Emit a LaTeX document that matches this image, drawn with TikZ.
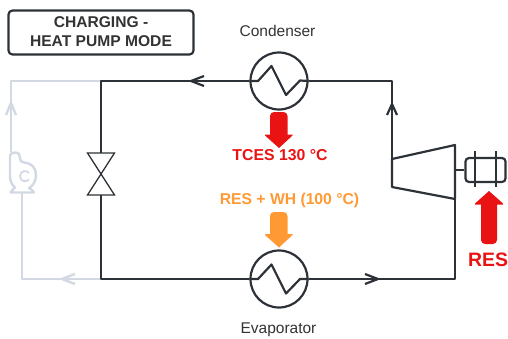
\documentclass[tikz,border=0pt]{standalone}
\usepackage{fontspec}
\setmainfont{Liberation Sans}
\usetikzlibrary{calc}
\definecolor{dk}{HTML}{2D3238}
\definecolor{gy}{HTML}{D3D9E3}
\definecolor{rd}{HTML}{EA1313}
\definecolor{og}{HTML}{FF9933}
\definecolor{tx}{HTML}{333333}
\tikzset{
 x=1pt,y=-1pt,
 pipe/.style={draw=dk,line width=2.2pt,line join=round},
 thin pipe/.style={draw=dk,line width=1.3pt,line join=miter},
 ghost/.style={draw=gy,line width=2.4pt,line join=round},
 hx/.style={circle,draw=dk,line width=2.2pt,minimum size=57pt,inner sep=0pt,fill=none},
 lbl/.style={inner sep=0pt,font=\fontsize{15.5pt}{18pt}\selectfont,text=tx},
 hot/.style={inner sep=0pt,font=\fontsize{15.8pt}{18pt}\selectfont\bfseries,text=rd},
 warm/.style={inner sep=0pt,font=\fontsize{15.7pt}{18pt}\selectfont\bfseries,text=og},
 title/.style={draw=dk,line width=2.2pt,rounded corners=4pt,minimum width=185pt,minimum height=44pt,inner sep=0pt,align=center,font=\fontsize{15.6pt}{19pt}\selectfont\bfseries,text=tx},
}
% open chevron: style, tip coordinate, direction of the arms along the line, half-width offset
\newcommand{\chevron}[4]{\draw[#1] ($(#2)+(#3)+(#4)$) -- (#2) -- ($(#2)+(#3)-(#4)$);}
\begin{document}
\begin{tikzpicture}
\useasboundingbox (0,0) rectangle (508,338);
% nodes
\node[title] (box) at (101,32.5) {\raisebox{1.5pt}{CHARGING -}\\\raisebox{1.5pt}{HEAT PUMP MODE}};
\node[lbl] (clabel) at (277.5,31) {Condenser};
\node[lbl] (elabel) at (278.5,329.5) {Evaporator};
\node[hx] (cond) at (279,81) {};
\node[hx] (evap) at (279,279) {};
\node[hot] (tces) at (280,155) {TCES 130 °C};
\node[warm] (reswh) at (289.5,200) {RES + WH (100 °C)};
\node[anchor=west,inner sep=0pt,font=\fontsize{19.4pt}{24pt}\selectfont\bfseries,text=rd] (res) at (468,259.5) {RES};
\node[draw=dk,line width=2.2pt,rounded corners=3.5pt,minimum width=40pt,minimum height=24pt,inner sep=0pt] (motor) at (485.5,170) {};
% junctions
\coordinate (tl) at (101,81);
\coordinate (bl) at (101,279);
\coordinate (vt) at (101,153);
\coordinate (vm) at (101,174);
\coordinate (vb) at (101,195);
\coordinate (tr) at (392,81);
\coordinate (ci) at (392,159);
\coordinate (cib) at (392,187);
\coordinate (cot) at (455,145);
\coordinate (cob) at (455,199);
\coordinate (cs) at (455,170);
\coordinate (br) at (455,279);
\coordinate (a1) at (191,81);
\coordinate (a2) at (378,279);
\coordinate (a3) at (392,104);
\coordinate (g1) at (11,81);
\coordinate (g2) at (11,152);
\coordinate (g3) at (22,193);
\coordinate (g4) at (22,279);
\coordinate (a4) at (11,103);
\coordinate (a5) at (62,279);
% ghost pump loop
\draw[ghost] (g3) -- (g4) -- (bl);
\draw[ghost] (tl) -- (g1) -- (g2);
\chevron{ghost}{a5}{13,0}{0,5}
\chevron{ghost}{a4}{0,12}{5,0}
% pump
\draw[ghost] (10,176) -- (10,157) .. controls (10,153.5) and (12,152.5) .. (15,152.5)
  .. controls (19,152.5) and (20,155) .. (20,158) .. controls (20,161) and (21,162) .. (24,162.5)
  .. controls (32,163) and (36,168) .. (36,175) .. controls (36,181) and (33,186) .. (29,188)
  .. controls (31,190) and (33.5,190) .. (34,192.5) -- (10.5,192.5)
  .. controls (11,190) and (14,190) .. (15,187.5) .. controls (12,185) and (10,181) .. (10,176) -- cycle;
\draw[ghost,line width=1.8pt] (29,173) .. controls (27,170) and (20.5,170) .. (20,176) .. controls (20,182) and (27,182.5) .. (29,179.5);
% main loop
\draw[pipe] (cond.west) -- (tl) -- (vt);
\chevron{pipe}{a1}{13,0}{0,5}
\draw[pipe] (vb) -- (bl) -- (evap.west);
\draw[pipe] (evap.east) -- (br) -- (cob);
\chevron{pipe}{a2}{-13,0}{0,5}
\draw[pipe] (cond.east) -- (tr) -- (ci);
\chevron{pipe}{a3}{0,11}{5,0}
% valve
\draw[thin pipe] (vm) -- (87.5,153) -- (114.5,153) -- cycle;
\draw[thin pipe] (vm) -- (87.5,195) -- (114.5,195) -- cycle;
% compressor
\draw[pipe] (ci) -- (cot) -- (cob) -- (cib) -- cycle;
% shaft + motor
\draw[draw=dk,line width=1.6pt] (cs) -- (motor.west);
\draw[pipe] (475,151) -- (475,187);
\draw[pipe] (496,151) -- (496,187);
% exchanger zigzags
\draw[pipe] (cond.west) -- (258,81) -- (271.5,66) -- (286,95) -- (300,80.5) -- (cond.east);
\draw[pipe] (evap.west) -- (258,279) -- (271.5,264.5) -- (286,293.5) -- (300,279) -- (evap.east);
% heat arrows
\fill[rd] (489,191) -- (503,203.5) -- (503,204.5) -- (497,204.5) [rounded corners=4pt] -- (497,244) -- (481,244) [sharp corners] -- (481,204.5) -- (475,204.5) -- (475,203.5) -- cycle;
\fill[rd] (279,148) -- (292.5,135.5) -- (292.5,134.5) -- (287.5,134.5) [rounded corners=4pt] -- (287.5,112) -- (270,112) [sharp corners] -- (270,134.5) -- (265,134.5) -- (265,135.5) -- cycle;
\fill[og] (279,247.5) -- (292.5,235) -- (292.5,234) -- (287.5,234) [rounded corners=4pt] -- (287.5,212) -- (270,212) [sharp corners] -- (270,234) -- (265,234) -- (265,235) -- cycle;
\end{tikzpicture}
\end{document}
